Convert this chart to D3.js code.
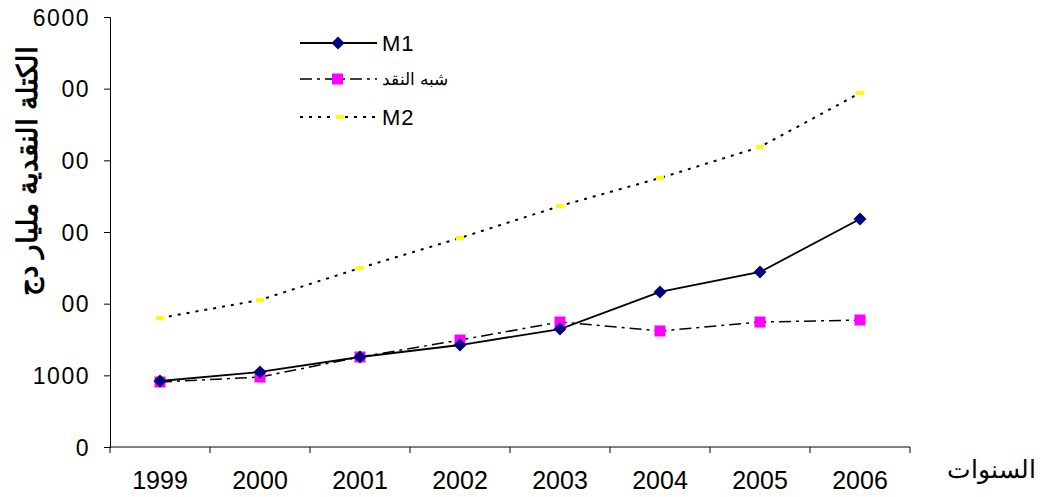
<!DOCTYPE html>
<html>
<head>
<meta charset="utf-8">
<script src="https://cdn.jsdelivr.net/npm/d3@7"></script>
<style>
  html, body { margin: 0; padding: 0; background: #fff; }
  svg { display: block; }
  text { font-family: "Liberation Sans", Arial, sans-serif; fill: #000; }
</style>
</head>
<body>
<svg id="chart" width="1042" height="497"></svg>
<script>
const years = ["1999", "2000", "2001", "2002", "2003", "2004", "2005", "2006"];
const m1 = [921, 1047, 1256, 1423, 1646, 2163, 2442, 3181];
const quasi = [907, 977, 1256, 1493, 1744, 1619, 1744, 1772];
const m2 = [1800, 2051, 2498, 2916, 3363, 3753, 4186, 4939];
const yTicks = [0, 1000, 2000, 3000, 4000, 5000, 6000];
const seriesNames = ["M1", "شبه النقد", "M2"];
const yTitle = "الكتلة النقدية مليار دج";
const xTitle = "السنوات";

const svg = d3.select("#chart");
const x = d3.scaleBand().domain(years).range([110, 910]).padding(0);
const y = d3.scaleLinear().domain([0, 6000]).range([447, 17]);

// axes
const yAxis = d3.axisLeft(y).tickValues(yTicks).tickSize(6).tickPadding(14).tickFormat(d3.format("d"));
const gy = svg.append("g").attr("transform", "translate(110,0)").call(yAxis);
gy.select(".domain").attr("stroke", "#000");
gy.selectAll(".tick line").attr("stroke", "#000");
gy.selectAll(".tick text").attr("font-size", 23).attr("letter-spacing", "1.5px")
  .attr("font-family", "'Liberation Sans', Arial, sans-serif").attr("fill", "#000").attr("dy", "0.36em");

const xAxis = d3.axisBottom(x).tickSize(0).tickPadding(24);
const gx = svg.append("g").attr("transform", "translate(0,447)").call(xAxis);
gx.select(".domain").attr("stroke", "#000").attr("d", `M110,0H910`);
gx.selectAll(".tick text").attr("font-size", 25)
  .attr("font-family", "'Liberation Sans', Arial, sans-serif").attr("fill", "#000");
// boundary ticks
const bounds = years.map(d => x(d)).concat([x(years[years.length - 1]) + x.bandwidth()]);
gx.selectAll(".btick").data(bounds).enter().append("line")
  .attr("x1", d => d).attr("x2", d => d).attr("y1", 0).attr("y2", 6).attr("stroke", "#000");

// lines
const cx = d => x(d) + x.bandwidth() / 2;
function drawLine(vals, dash, width) {
  const line = d3.line().x((v, i) => cx(years[i])).y(v => y(v));
  svg.append("path").datum(vals).attr("d", line).attr("fill", "none")
    .attr("stroke", "#000").attr("stroke-width", width).attr("stroke-dasharray", dash);
}
drawLine(m2, "3,6", 2);
drawLine(quasi, "12,5,3,5", 1.5);
drawLine(m1, null, 1.8);

function diamondPath(cxp, cyp, r) { return `M${cxp},${cyp - r}L${cxp + r},${cyp}L${cxp},${cyp + r}L${cxp - r},${cyp}Z`; }

// markers
svg.append("g").selectAll("rect").data(m2).enter().append("rect")
  .attr("x", (v, i) => cx(years[i]) - 4).attr("y", v => y(v) - 2)
  .attr("width", 8).attr("height", 4).attr("fill", "#ffff00");
svg.append("g").selectAll("rect").data(quasi).enter().append("rect")
  .attr("x", (v, i) => cx(years[i]) - 5.5).attr("y", v => y(v) - 5.5)
  .attr("width", 11).attr("height", 11).attr("fill", "#ff00ff");
svg.append("g").selectAll("path").data(m1).enter().append("path")
  .attr("d", (v, i) => diamondPath(cx(years[i]), y(v), 6.5)).attr("fill", "#000080");

// legend
const lg = svg.append("g");
const rows = [43, 79, 117];
lg.append("line").attr("x1", 300).attr("x2", 377).attr("y1", rows[0]).attr("y2", rows[0]).attr("stroke", "#000").attr("stroke-width", 1.8);
lg.append("path").attr("d", diamondPath(338, rows[0], 6.5)).attr("fill", "#000080");
lg.append("line").attr("x1", 300).attr("x2", 377).attr("y1", rows[1]).attr("y2", rows[1]).attr("stroke", "#000").attr("stroke-width", 1.5).attr("stroke-dasharray", "12,5,3,5");
lg.append("rect").attr("x", 332).attr("y", rows[1] - 5.5).attr("width", 11).attr("height", 11).attr("fill", "#ff00ff");
lg.append("line").attr("x1", 300).attr("x2", 377).attr("y1", rows[2]).attr("y2", rows[2]).attr("stroke", "#000").attr("stroke-width", 2).attr("stroke-dasharray", "3,6");
lg.append("rect").attr("x", 336).attr("y", rows[2] - 2).attr("width", 8).attr("height", 4).attr("fill", "#ffff00");

lg.append("text").attr("x", 382).attr("y", rows[0] + 8).attr("font-size", 22).attr("letter-spacing", "1px").text(seriesNames[0]);
lg.append("text").attr("x", 382).attr("y", rows[1] + 6).attr("font-size", 17).attr("direction", "rtl").attr("text-anchor", "end").text(seriesNames[1]);
lg.append("text").attr("x", 382).attr("y", rows[2] + 8).attr("font-size", 22).attr("letter-spacing", "1px").text(seriesNames[2]);

// y title with white backing
svg.append("rect").attr("x", 0).attr("y", 30).attr("width", 59).attr("height", 288).attr("fill", "#fff");
svg.append("text").attr("transform", "translate(37,171) rotate(-90)")
  .attr("text-anchor", "middle").attr("font-size", 28).attr("font-weight", "bold")
  .attr("font-family", "'DejaVu Sans', sans-serif").attr("direction", "rtl")
  .text(yTitle);

// x title
svg.append("text").attr("x", 1036).attr("y", 478).attr("text-anchor", "end").attr("font-size", 25).text(xTitle);
</script>
</body>
</html>
